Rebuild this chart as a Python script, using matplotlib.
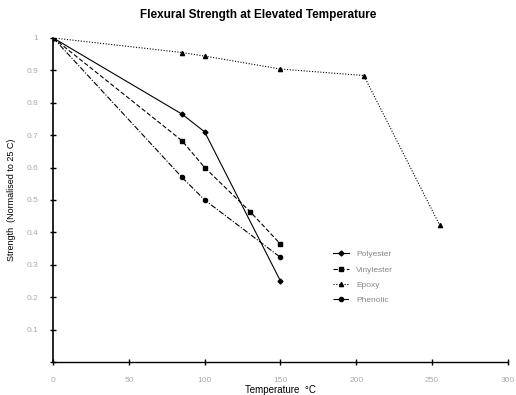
import numpy as np
import matplotlib
matplotlib.use("Agg")
import matplotlib.pyplot as plt

plt.rcParams['font.family'] = ['Liberation Sans', 'DejaVu Sans']

temp_polyester = [0, 85, 100, 150]
str_polyester = [1.0, 0.765, 0.71, 0.25]

temp_vinylester = [0, 85, 100, 130, 150]
str_vinylester = [1.0, 0.683, 0.60, 0.464, 0.364]

temp_epoxy = [0, 85, 100, 150, 205, 255]
str_epoxy = [1.0, 0.955, 0.944, 0.904, 0.884, 0.423]

temp_phenolic = [0, 85, 100, 150]
str_phenolic = [1.0, 0.57, 0.50, 0.323]

xticks = [0, 50, 100, 150, 200, 250, 300]
yticks = [0, 0.1, 0.2, 0.3, 0.4, 0.5, 0.6, 0.7, 0.8, 0.9, 1.0]

fig = plt.figure(figsize=(5.16, 3.95), dpi=100)
ax = fig.add_axes([0.103, 0.0835, 0.881, 0.8205])

ax.plot(temp_polyester, str_polyester, color="black", lw=0.8, ls="-",
        marker="D", ms=2.5, label="Polyester")
ax.plot(temp_vinylester, str_vinylester, color="black", lw=0.8, ls=(0, (4, 2)),
        marker="s", ms=3.5, label="Vinylester")
ax.plot(temp_epoxy, str_epoxy, color="black", lw=0.8, ls=(0, (1, 1.5)),
        marker="^", ms=3, label="Epoxy")
ax.plot(temp_phenolic, str_phenolic, color="black", lw=0.8, ls=(0, (5, 1.5, 1, 1.5)),
        marker="o", ms=3, label="Phenolic")

ax.set_xlim(0, 300)
ax.set_ylim(0, 1.0)
ax.set_xticks(xticks)
ax.set_yticks(yticks)
ax.set_xticklabels([str(t) for t in xticks], color="#aaaaaa", fontsize=6)
ax.set_yticklabels(["", "0.1", "0.2", "0.3", "0.4", "0.5", "0.6", "0.7", "0.8", "0.9", "1"],
                   color="#aaaaaa", fontsize=6)
ax.tick_params(direction="inout", length=5, width=1.0, color="black", pad=8)
ax.spines["top"].set_visible(False)
ax.spines["right"].set_visible(False)
ax.spines["left"].set_linewidth(1.2)
ax.spines["bottom"].set_linewidth(1.0)

ax.set_xlabel("Temperature  °C", fontsize=7, labelpad=1)
ax.set_ylabel("Strength  (Normalised to 25 C)", fontsize=6.5, labelpad=8)

fig.suptitle("Flexural Strength at Elevated Temperature", fontsize=8.5,
             fontweight="semibold", x=0.5, y=0.978)

handles, labels = ax.get_legend_handles_labels()
fig.legend(handles, labels, loc="upper left", bbox_to_anchor=(0.63, 0.385),
           frameon=False, fontsize=6, handlelength=2.0, labelspacing=0.9,
           labelcolor="#888888")

fig.savefig("out.png", dpi=100)
